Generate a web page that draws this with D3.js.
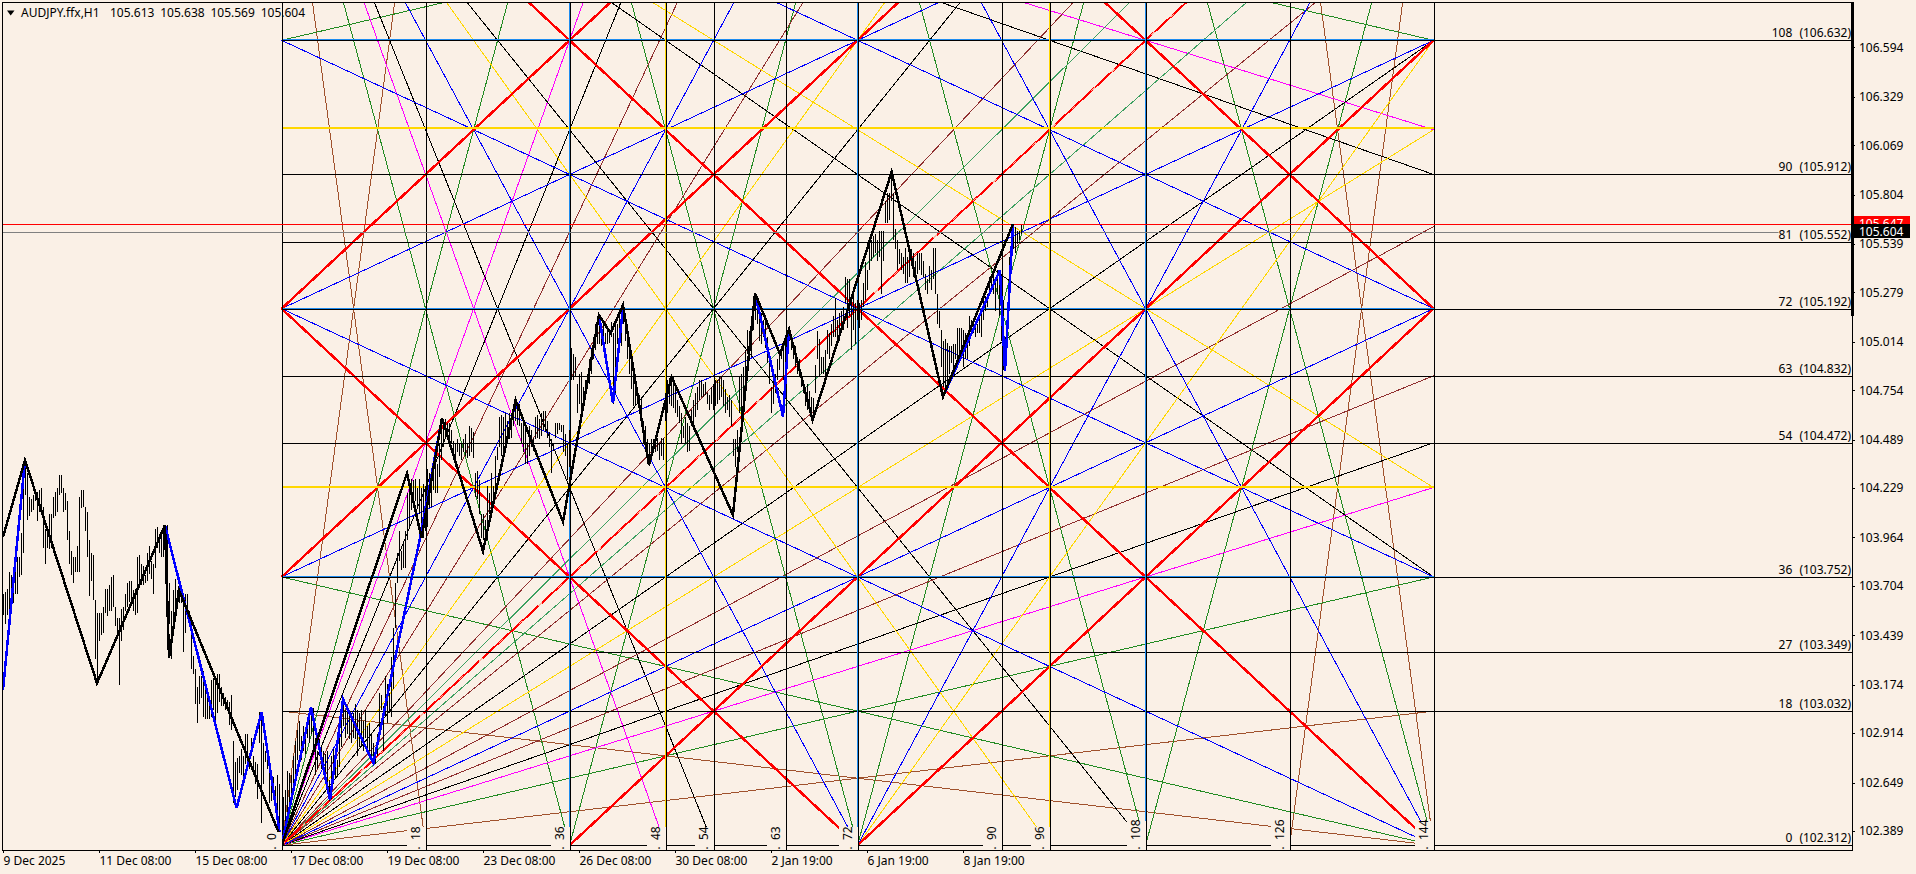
<!DOCTYPE html>
<html>
<head>
<meta charset="utf-8">
<title>AUDJPY.ffx,H1</title>
<script src="https://cdnjs.cloudflare.com/ajax/libs/d3/7.8.5/d3.min.js"></script>
<style>
  html, body { margin: 0; padding: 0; background: #FAF0E6; overflow: hidden; }
  svg { display: block; }
  text { font-family: "Noto Sans", sans-serif; font-size: 12px; fill: #000; }
  .crisp line, .crisp path { shape-rendering: crispEdges; }
</style>
</head>
<body>
<div id="chart"></div>
<script>
// ------------------------------------------------------------
// 1. Chart values
// ------------------------------------------------------------
const symbolText = "AUDJPY.ffx,H1";
const quoteText = "105.613 105.638 105.569 105.604";
const askPrice = 105.647;
const bidPrice = 105.604;

const priceTicks = [106.594, 106.329, 106.069, 105.804, 105.539, 105.279, 105.014, 104.754, 104.489,
  104.229, 103.964, 103.704, 103.439, 103.174, 102.914, 102.649, 102.389];
const timeTickBars = [0, 48, 96, 144, 192, 240, 288, 336, 384, 432, 480];
const timeTickLabels = ["9 Dec 2025", "11 Dec 08:00", "15 Dec 08:00", "17 Dec 08:00", "19 Dec 08:00",
  "23 Dec 08:00", "26 Dec 08:00", "30 Dec 08:00", "2 Jan 19:00", "6 Jan 19:00", "8 Jan 19:00"];

// Gann box: horizontal levels with a label on the right
const levelUnits = [108, 90, 81, 72, 63, 54, 36, 27, 18, 0];
const levelPrices = [106.632, 105.912, 105.552, 105.192, 104.832, 104.472, 103.752, 103.349, 103.032, 102.312];
const goldLevelPrices = [106.16, 104.236];
const blueLevelPrices = [106.632, 105.192, 103.752];
const gannBasePrice = 102.312;
const gannUnitPrice = 0.04;
const gannStartBar = 139.3;
const barsPerUnit = 4;

// Gann box: vertical lines with a rotated label at the bottom
const timeUnits = [0, 18, 36, 48, 54, 63, 72, 90, 96, 108, 126, 144];
const blueTimeUnits = [36, 72, 108];
const goldTimeUnits = [48, 96];

// Gann rays as [from time, from price, to time, to price], in box units
const siennaRays = [[0,0,18,144],[0,144,18,0],[0,0,144,18],[0,18,144,0],[126,0,144,144],[126,144,144,0]];
const greenRays = [[0,0,36,144],[0,0,144,36],[0,144,36,0],[0,36,144,0],[0,108,144,144],[0,144,144,108],
  [36,0,72,144],[36,144,72,0],[72,0,108,144],[72,144,108,0],[108,0,144,144],[108,144,144,0]];
const magentaRays = [[0,0,48,144],[0,0,144,48],[0,144,48,0],[0,144,144,96]];
const blackRays = [[0,0,144,54],[0,0,144,108],[0,0,108,144],[0,0,54,144],
  [0,144,54,0],[0,144,108,0],[0,144,144,36],[0,144,144,90]];
const brownRays = [[0,0,144,63],[0,0,144,83],[0,0,144,126],[0,0,126,144],[0,0,83,144],[0,0,63,144]];
const blueRays = [[0,0,144,72],[0,0,72,144],[0,144,72,0],[0,144,144,72],[0,72,144,0],[72,144,144,0],
  [72,0,144,144],[0,72,144,144],[0,36,144,108],[0,108,144,36]];
const goldRays = [[0,0,144,96],[0,0,96,144],[0,144,96,0],[0,144,144,48],[72,0,144,108]];
const seaGreenRays = [[0,0,144,135],[0,0,135,144]];
const redRays = [[0,36,108,144],[0,72,72,144],[36,0,144,108],[72,0,144,72],[0,72,72,0],[0,144,144,0],[72,144,144,72]];
const thinRedRays = [[0,0,144,144]];

// High and low of the H1 bars, in stretches as they were read
const highsA = [103.66,103.67,103.69,103.78,103.76,103.74,103.78,103.86,103.86,103.99,104.31,104.38,104.31,104.18,104.17,104.19,104.20,104.21,104.22,104.23,104.13,104.01,104.02,104.09,104.09,104.18,104.21,104.23,104.30,104.30,104.23,104.20,104.16,104.00,103.89,103.86,103.86,103.92,104.18,104.22,104.22,104.13,104.10,103.95,103.88,103.87,103.63,103.56,103.56,103.56,103.59,103.69,103.69,103.71,103.75,103.76,103.59,103.53,103.53,103.58,103.59,103.66,103.72,103.73,103.73,103.68,103.69,103.86,103.87,103.82,103.81,103.76,103.88,103.92,103.84,103.82,104.01,104.02,103.98,104.00,104.01,104.03,104.03,103.72,103.57,103.68,103.74,103.68,103.69,103.68,103.66,103.66,103.66,103.57,103.52,103.33,103.26,103.16,103.22,103.22,103.25,103.18,103.14,103.07,103.20,103.21,103.19,103.23,103.23,103.16,103.13,103.11,103.09,103.08,103.12,102.87,102.76,102.78,102.79,102.83,102.79,102.91,102.91,102.81,102.89,102.79,102.76,102.75,103.03,103.02,102.86,102.82,102.81,102.71,102.69,102.68,102.63,102.69,102.64];
const lowsA = [103.55,103.50,103.55,103.52,103.57,103.61,103.66,103.66,103.75,103.76,103.88,104.19,104.06,104.08,104.10,104.11,104.16,104.05,104.10,104.11,103.91,103.82,103.91,103.90,103.91,104.07,104.08,104.10,104.19,104.20,104.10,104.11,103.95,103.82,103.76,103.72,103.78,103.78,103.78,104.12,104.13,104.00,103.86,103.65,103.73,103.63,103.31,103.18,103.41,103.44,103.45,103.56,103.54,103.57,103.57,103.59,103.49,103.45,103.17,103.41,103.47,103.57,103.59,103.62,103.61,103.57,103.55,103.56,103.73,103.71,103.71,103.72,103.73,103.77,103.74,103.66,103.80,103.91,103.88,103.86,103.86,103.86,103.68,103.50,103.31,103.52,103.56,103.59,103.61,103.61,103.35,103.45,103.57,103.50,103.26,103.23,103.07,102.97,103.07,103.10,103.00,102.99,102.99,102.99,103.00,103.04,102.96,103.02,103.08,103.06,103.06,103.04,103.04,102.96,102.93,102.54,102.57,102.61,102.70,102.69,102.67,102.75,102.71,102.72,102.80,102.71,102.64,102.56,102.86,102.43,102.64,102.76,102.72,102.54,102.55,102.61,102.52,102.38,102.38];
const highsB = [102.57,102.61,102.71,102.70,102.69,102.79,102.87,102.93,102.98,102.90,102.95,102.93,102.98,103.04,103.05,103.05,102.89,102.82,102.88,102.84,102.82,102.80,102.82,102.66,102.79,102.83,102.82,102.77,102.89,103.00,103.09,103.04,103.03,103.02,103.02,103.02,103.07,103.04,103.02,103.04,102.98,103.04,102.95,102.97,102.91,102.86,102.84,102.91,103.13,103.12,103.06,103.22,103.18,103.13,103.32,103.48,103.72,103.88,104.00,103.89,103.93,104.00,104.20,104.27,104.28,104.27,104.28,104.23,104.28,104.23,104.25,104.24,104.33,104.31,104.33,104.38,104.40];
const lowsB = [102.31,102.38,102.45,102.54,102.57,102.61,102.68,102.77,102.82,102.77,102.82,102.80,102.89,102.86,102.91,102.80,102.69,102.72,102.79,102.72,102.73,102.69,102.63,102.55,102.56,102.64,102.67,102.68,102.73,102.84,102.95,102.89,102.91,102.88,102.86,102.89,102.88,102.79,102.84,102.84,102.82,102.89,102.80,102.82,102.78,102.74,102.75,102.79,102.88,103.04,102.82,103.00,102.97,103.02,103.00,103.15,103.48,103.72,103.84,103.79,103.80,103.80,103.95,104.02,104.11,104.15,104.16,104.13,104.09,103.96,103.96,104.00,104.02,104.12,104.13,104.22,104.20];
const highsC = [104.36,104.47,104.58,104.60,104.60,104.58,104.58,104.54,104.48,104.47,104.49,104.47,104.47,104.49,104.52,104.47,104.56,104.55,104.53,104.31,104.32,104.27,104.09,104.09,104.06,104.24,104.20,104.31,104.24,104.40,104.45,104.61,104.62,104.61,104.63,104.59,104.63,104.58,104.67,104.70,104.69,104.68,104.58,104.58,104.58,104.47,104.56,104.54,104.50,104.61,104.62,104.60,104.63,104.64,104.64,104.59,104.53,104.49,104.47,104.58,104.58,104.58,104.57];
const lowsC = [104.20,104.29,104.38,104.45,104.50,104.49,104.50,104.47,104.38,104.34,104.42,104.40,104.38,104.42,104.40,104.39,104.40,104.42,104.39,104.18,104.17,104.09,103.96,103.95,103.95,103.95,104.09,104.11,104.15,104.20,104.38,104.45,104.40,104.42,104.45,104.47,104.49,104.50,104.56,104.59,104.57,104.56,104.47,104.42,104.36,104.36,104.40,104.45,104.43,104.49,104.50,104.49,104.51,104.54,104.53,104.50,104.45,104.31,104.43,104.50,104.52,104.54,104.53];
const highsD = [104.57,104.52,104.47,104.54,104.98,104.95,104.93,104.79,104.84,104.85,104.77,104.81,104.84,104.92,104.98,105.04,105.11,105.15,105.15,105.09,105.12,105.06,105.07,105.08,105.12,105.06,105.11,105.11,105.15,105.20,105.20,105.15,105.11,104.98,104.92,104.84,104.77,104.75,104.73,104.72,104.59,104.56,104.49,104.47,104.49,104.49,104.47,104.50,104.47,104.50,104.50,104.74,104.81,104.82,104.83,104.83,104.79,104.70,104.67,104.63,104.56,104.61,104.58,104.56,104.65,104.70,104.74,104.77,104.81,104.81,104.79,104.80,104.74,104.73,104.77,104.79,104.81,104.81,104.83,104.83,104.81,104.76,104.72,104.73,104.70,104.49,104.49,104.54,104.83,104.84,104.88,104.97,105.08,105.07,105.11,105.26,105.27,105.24,105.20,105.17,105.13,105.12,105.04,104.93,104.77,104.86,104.84,104.92,104.95,104.99,105.00,105.04,105.08,105.09,105.04,105.00,104.99,104.92,104.92,104.81,104.81,104.77,104.79,104.75];
const lowsD = [104.42,104.40,104.27,104.34,104.81,104.81,104.83,104.63,104.68,104.63,104.70,104.72,104.76,104.79,104.84,104.92,104.97,105.00,105.00,104.99,105.00,105.00,105.00,105.01,105.04,104.68,104.74,105.00,105.04,104.99,105.11,105.02,104.92,104.84,104.76,104.67,104.67,104.70,104.65,104.59,104.47,104.42,104.36,104.35,104.38,104.42,104.42,104.43,104.38,104.40,104.38,104.59,104.63,104.68,104.67,104.66,104.63,104.61,104.58,104.47,104.50,104.47,104.42,104.43,104.56,104.54,104.61,104.65,104.70,104.72,104.72,104.73,104.68,104.65,104.68,104.65,104.67,104.68,104.70,104.72,104.67,104.63,104.65,104.61,104.56,104.40,104.34,104.42,104.63,104.59,104.68,104.79,104.95,104.92,104.93,105.08,105.13,105.11,105.02,105.00,105.04,104.98,104.90,104.79,104.63,104.68,104.74,104.81,104.86,104.92,104.81,104.72,104.92,105.02,104.97,104.92,104.88,104.84,104.83,104.77,104.74,104.67,104.65,104.63];
const highsE = [104.72,104.71,104.89,105.07,105.03,104.93,104.93,104.97,105.08,105.06,105.11,105.15,105.25,105.13,105.17,105.18,105.20,105.36,105.35,105.35,105.24,105.26,105.22,105.24,105.22,105.24,105.33,105.44,105.40,105.56,105.56,105.58,105.59,105.56,105.61,105.61,105.61,105.77,105.81,105.81,105.93,105.81,105.62,105.56,105.51,105.49,105.47,105.52,105.47,105.51,105.51,105.49,105.45,105.49,105.49,105.49,105.45,105.38,105.35,105.42,105.40,105.52,105.52,105.27,105.18,105.08,105.02,105.03,105.01,104.99,104.99,105.00,105.00,105.09,105.09,105.09,105.08,105.06,105.00,105.15,105.13,105.14,105.11,105.11,105.15,105.18,105.24,105.26,105.27,105.36,105.36,105.40,105.36,105.40,105.39,105.36,105.24,105.04,105.11,105.47,105.62,105.64,105.63,105.61,105.61,105.64];
const lowsE = [104.61,104.61,104.74,104.92,104.83,104.84,104.84,104.81,104.95,104.92,104.99,105.04,105.04,105.01,105.02,105.06,105.08,105.22,105.09,105.15,104.97,105.08,105.00,105.13,105.09,105.13,105.20,105.24,105.29,105.40,105.45,105.47,105.49,105.45,105.47,105.27,105.45,105.65,105.65,105.67,105.77,105.56,105.51,105.40,105.43,105.40,105.38,105.33,105.33,105.36,105.42,105.36,105.35,105.38,105.40,105.37,105.36,105.29,105.27,105.33,105.29,105.35,105.27,105.11,105.09,104.88,104.77,104.76,104.77,104.84,104.90,104.88,104.92,104.92,104.95,104.95,104.88,104.92,104.92,104.99,105.08,105.06,105.04,105.06,105.06,105.04,105.13,105.18,105.20,105.27,105.29,105.27,105.18,105.27,105.15,105.02,104.86,104.92,104.99,105.26,105.47,105.51,105.49,105.54,105.56,105.59];

// Zigzags as bar number and price at each turning point
const blackZigBars = [0,11,47,81,83,88,138,139.3,202,209.3,219.5,240,256.3,280,298,303.8,310,323,334.3,365,376,388.5,393,404.8,444.3,470,505];
const blackZigPrices = [103.966,104.379,103.182,104.03,103.317,103.681,102.377,102.312,104.309,103.961,104.605,103.891,104.701,104.048,105.157,105.061,105.211,104.352,104.826,104.084,105.275,104.948,105.082,104.594,105.926,104.719,105.647];
const blueZigBars = [[0,11],[81,116.8,129.3,139.3,154,163.5,170,185.2,208.5,219.5],[298,305,310],[376,390,393],[470,498.5,501,505]];
const blueZigPrices = [[103.145,104.379],[104.03,102.512,103.028,102.312,103.054,102.554,103.096,102.753,103.961,104.605],[105.157,104.685,105.2],[105.275,104.612,105.082],[104.719,105.399,104.858,105.647]];

// ------------------------------------------------------------
// 2. Scales and layers
// ------------------------------------------------------------
const width = 1916;
const height = 874;
const plot = { left: 2, right: 1852, top: 2, bottom: 850 };
const linen = "#FAF0E6";

const x = d3.scaleLinear().domain([0, 510]).range([3, 1023]);
const y = d3.scaleLinear().domain([102.312, 106.632]).range([845.3, 40.3]);
const gannX = t => x(gannStartBar + t * barsPerUnit);
const gannY = p => y(gannBasePrice + p * gannUnitPrice);

const svg = d3.select("#chart").append("svg").attr("width", width).attr("height", height);

svg.append("clipPath").attr("id", "plot-clip").append("rect")
  .attr("x", plot.left).attr("y", plot.top)
  .attr("width", plot.right - plot.left).attr("height", plot.bottom - plot.top);

const chart = svg.append("g").attr("class", "crisp").attr("clip-path", "url(#plot-clip)");

// ------------------------------------------------------------
// 3. Gann box: rays, levels and verticals
// ------------------------------------------------------------
function drawRays(rays, color, strokeWidth, dash) {
  chart.append("g").selectAll("line").data(rays).join("line")
    .attr("x1", d => gannX(d[0])).attr("y1", d => gannY(d[1]))
    .attr("x2", d => gannX(d[2])).attr("y2", d => gannY(d[3]))
    .attr("stroke", color).attr("stroke-width", strokeWidth)
    .attr("stroke-dasharray", dash || null);
}

drawRays(siennaRays, "#A0522D", 1);
drawRays(greenRays, "#228B22", 1);
drawRays(magentaRays, "#FF00FF", 1);
drawRays(blackRays, "#000000", 1);
drawRays(brownRays, "#8F2F2F", 1);
drawRays(goldRays, "#FFD700", 1);
drawRays(seaGreenRays, "#3CA060", 1);
drawRays(blueRays, "#0000FF", 1);
drawRays(redRays, "#FF0000", 2.4);
drawRays(thinRedRays, "#FF0000", 2);
drawRays(thinRedRays, "#FFB4A0", 1, "5 22");

function hLine(yPos, x1, x2, color, strokeWidth) {
  chart.append("line").attr("x1", x1).attr("x2", x2).attr("y1", yPos).attr("y2", yPos)
    .attr("stroke", color).attr("stroke-width", strokeWidth);
}
function vLine(xPos, color, strokeWidth) {
  chart.append("line").attr("x1", xPos).attr("x2", xPos).attr("y1", plot.top).attr("y2", plot.bottom)
    .attr("stroke", color).attr("stroke-width", strokeWidth);
}

goldLevelPrices.forEach(p => hLine(Math.round(y(p)), gannX(0), gannX(144), "#FFD700", 2));
blueLevelPrices.forEach(p => hLine(Math.round(y(p)) - 0.5, gannX(0), gannX(144), "#1E8CF0", 2));
levelPrices.forEach(p => hLine(Math.round(y(p)) + 0.5, gannX(0), plot.right, "#000000", 1));

blueTimeUnits.forEach(t => vLine(Math.round(gannX(t)) - 0.5, "#1E8CF0", 2));
goldTimeUnits.forEach(t => vLine(Math.round(gannX(t)) - 0.5, "#FFD700", 1));
timeUnits.forEach(t => vLine(Math.round(gannX(t)) + 0.5, "#000000", 1));

// ask and bid lines
hLine(Math.round(y(askPrice)) + 0.5, plot.left, plot.right, "#FF0000", 1);
hLine(Math.round(y(bidPrice)) + 0.5, plot.left, plot.right, "#808080", 1);

// ------------------------------------------------------------
// 4. Bars and zigzags
// ------------------------------------------------------------
function drawBars(firstBar, highs, lows) {
  chart.append("g").selectAll("line").data(highs).join("line")
    .attr("x1", (d, i) => Math.round(x(firstBar + i)) + 0.5)
    .attr("x2", (d, i) => Math.round(x(firstBar + i)) + 0.5)
    .attr("y1", d => y(d))
    .attr("y2", (d, i) => y(lows[i]))
    .attr("stroke", "#000").attr("stroke-width", 1);
}
drawBars(0, highsA, lowsA);
drawBars(140, highsB, lowsB);
drawBars(217, highsC, lowsC);
drawBars(280, highsD, lowsD);
drawBars(404, highsE, lowsE);

const zigLine = d3.line().x(d => x(d[0])).y(d => y(d[1]));
blueZigBars.forEach((bars, k) => {
  chart.append("path")
    .attr("d", zigLine(bars.map((b, i) => [b, blueZigPrices[k][i]])))
    .attr("fill", "none").attr("stroke", "#0000FF").attr("stroke-width", 2.5);
});
chart.append("path")
  .attr("d", zigLine(blackZigBars.map((b, i) => [b, blackZigPrices[i]])))
  .attr("fill", "none").attr("stroke", "#000").attr("stroke-width", 2.5);

// ------------------------------------------------------------
// 5. Labels on the box
// ------------------------------------------------------------
const labels = svg.append("g");

// rotated time labels, each one on its own linen patch
timeUnits.forEach(t => {
  const xPos = Math.round(gannX(t));
  const digits = String(t).length;
  const top = digits === 1 ? 832 : digits === 2 ? 827 : 821;
  labels.append("rect")
    .attr("x", xPos - 19).attr("y", top)
    .attr("width", 19).attr("height", plot.bottom - top)
    .attr("fill", linen);
  labels.append("text")
    .attr("transform", `translate(${xPos - 6},849.5) rotate(-90)`)
    .text(`.\u00A0\u00A0${t}`);
});

// level labels, right aligned against the price axis
levelUnits.forEach((u, i) => {
  const yPos = Math.round(y(levelPrices[i]));
  const label = labels.append("text")
    .attr("x", 1851).attr("y", yPos - 3)
    .attr("text-anchor", "end")
    .style("word-spacing", "4px")
    .text(`${u} (${levelPrices[i].toFixed(3)})`);
  const box = label.node().getBBox();
  labels.insert("rect", "text")
    .attr("x", box.x).attr("y", yPos - 13)
    .attr("width", box.width).attr("height", 13)
    .attr("fill", linen);
});

// ------------------------------------------------------------
// 6. Axes, frame and header
// ------------------------------------------------------------
const priceAxis = svg.append("g").attr("class", "crisp")
  .attr("transform", `translate(${plot.right},0)`)
  .call(d3.axisRight(y).tickValues(priceTicks).tickFormat(d3.format(".3f")).tickSize(3).tickPadding(4));
priceAxis.select(".domain").remove();

const timeAxis = svg.append("g").attr("class", "crisp")
  .attr("transform", `translate(0,${plot.bottom})`)
  .call(d3.axisBottom(x).tickValues(timeTickBars).tickFormat((d, i) => timeTickLabels[i]).tickSize(3).tickPadding(3));
timeAxis.select(".domain").remove();
timeAxis.selectAll("text").attr("text-anchor", "start");

svg.selectAll(".tick text").style("font-family", "\"Noto Sans\", sans-serif").style("font-size", "12px");

const frame = svg.append("g").attr("class", "crisp");
frame.append("path")
  .attr("d", `M${plot.left + 0.5},${plot.top + 0.5}H${plot.right + 0.5}V${plot.bottom + 0.5}H${plot.left + 0.5}Z`)
  .attr("fill", "none").attr("stroke", "#000");
frame.append("line")
  .attr("x1", plot.right + 0.5).attr("x2", plot.right + 0.5)
  .attr("y1", plot.top).attr("y2", 316)
  .attr("stroke", "#000").attr("stroke-width", 3);

// price tags on the axis
function priceTag(price, color, top, h) {
  svg.append("rect").attr("x", 1854).attr("y", top).attr("width", 56).attr("height", h).attr("fill", color);
  svg.append("text").attr("x", 1859).attr("y", y(price)).attr("dy", "0.35em")
    .style("fill", "#fff").text(price.toFixed(3));
}
priceTag(askPrice, "#FF0000", 216, 15);
priceTag(bidPrice, "#000000", 224, 14);

svg.append("path").attr("d", "M7,10.5H14.5L10.7,15.5Z").attr("fill", "#000");
svg.append("text").attr("x", 21).attr("y", 17).text(symbolText);
svg.append("text").attr("x", 110).attr("y", 17).style("word-spacing", "2.7px").text(quoteText);
</script>
</body>
</html>
